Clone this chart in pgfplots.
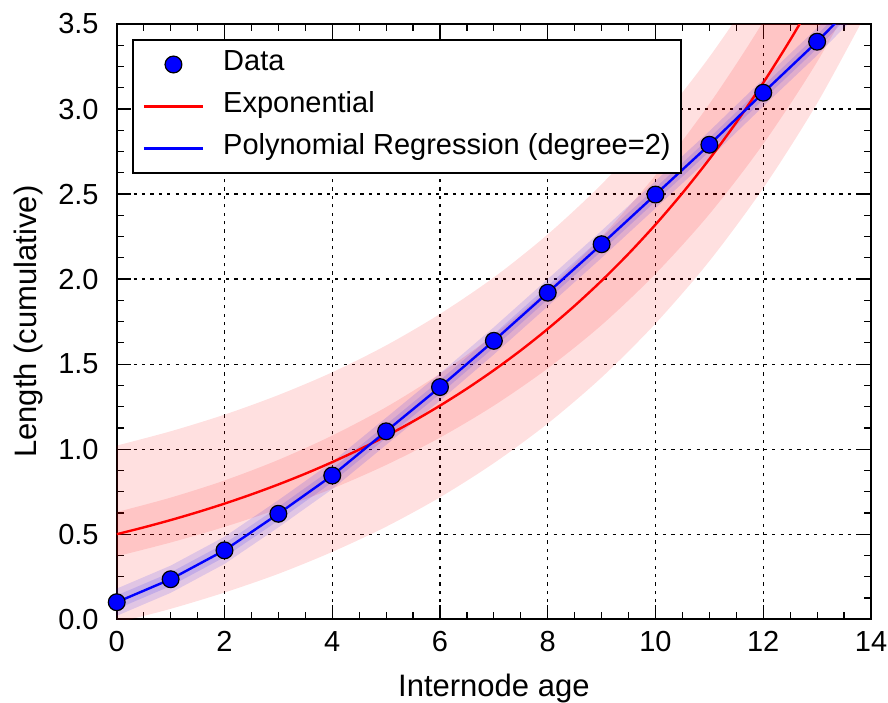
\documentclass[border=0pt]{standalone}
\usepackage{fontspec}
\setmainfont{Liberation Sans}
\usepackage{pgfplots}
\pgfplotsset{compat=1.18}
\usepgfplotslibrary{fillbetween}
\begin{document}
\begin{tikzpicture}
\begin{axis}[
  scale only axis, width=377pt, height=297.5pt,
  xmin=0, xmax=14, ymin=0, ymax=3.5,
  xtick={0,2,4,6,8,10,12,14}, ytick={0,0.5,1,1.5,2,2.5,3,3.5},
  minor x tick num=3, minor y tick num=3,
  tick align=inside, tick pos=both,
  major tick length=7pt, minor tick length=3.5pt,
  tick style={black, line width=0.6pt},
  axis line style={black, line width=1.2pt},
  grid=major,
  major grid style={black, line width=0.6pt, dash pattern=on 1.6pt off 2.6pt},
  /pgf/number format/assume math mode=true,
  ticklabel style={font=\fontsize{14.5}{17}\selectfont, inner sep=0pt},
  xticklabel style={anchor=north, yshift=-6pt},
  yticklabel style={anchor=east, xshift=-8.85pt, /pgf/number format/.cd, fixed, fixed zerofill, precision=1},
  xlabel={Internode age},
  ylabel={Length (cumulative)},
  label style={font=\fontsize{15.5}{18}\selectfont, inner sep=0pt},
  xlabel style={at={(axis description cs:0.5,-0.1294)}, anchor=base},
  ylabel style={at={(axis description cs:-0.107,0.5)}, anchor=base},
  legend cell align=left,
  legend style={
    at={(axis description cs:0.0199,0.974)}, anchor=north west,
    draw=black, line width=1pt, fill=white,
    inner xsep=5pt, inner ysep=6pt,
    font=\fontsize{14.5}{17}\selectfont,
    row sep=9pt,
    nodes={inner sep=0pt, text height=9pt, text depth=3pt},
    /tikz/every odd column/.style={column sep=9.5pt},
    cells={anchor=west},
  },
]
\addlegendimage{legend image code/.code={\draw[fill=blue, draw=black, line width=0.6pt] (14.75pt,0pt) circle (4.2pt);}}
\addlegendentry{Data}
\addlegendimage{legend image code/.code={\draw[red, line width=1.2pt] (0pt,0pt) -- (29.5pt,0pt);}}
\addlegendentry{Exponential}
\addlegendimage{legend image code/.code={\draw[blue, line width=1.2pt] (0pt,0pt) -- (29.5pt,0pt);}}
\addlegendentry{Polynomial Regression (degree=2)}

% red outer band
\addplot[name path=roup, draw=none, smooth, forget plot] coordinates {(0,1.021)(1,1.105)(2,1.203)(3,1.318)(4,1.452)(5,1.610)(6,1.795)(7,2.010)(8,2.263)(9,2.558)(10,2.903)(11,3.306)(12,3.775)(13,4.322)(14,4.960)};
\addplot[name path=rolo, draw=none, smooth, forget plot] coordinates {(0,-0.021)(1,0.061)(2,0.157)(3,0.267)(4,0.396)(5,0.544)(6,0.717)(7,0.918)(8,1.151)(9,1.422)(10,1.739)(11,2.106)(12,2.535)(13,3.034)(14,3.616)};
\addplot[fill=red, fill opacity=0.12, draw=none, forget plot] fill between[of=roup and rolo];
% red inner band
\addplot[name path=riup, draw=none, smooth, forget plot] coordinates {(0,0.630)(1,0.715)(2,0.816)(3,0.937)(4,1.080)(5,1.247)(6,1.444)(7,1.672)(8,1.939)(9,2.250)(10,2.611)(11,3.030)(12,3.515)(13,4.078)(14,4.732)};
\addplot[name path=rilo, draw=none, smooth, forget plot] coordinates {(0,0.370)(1,0.451)(2,0.543)(3,0.648)(4,0.768)(5,0.907)(6,1.068)(7,1.256)(8,1.475)(9,1.730)(10,2.031)(11,2.382)(12,2.795)(13,3.278)(14,3.844)};
\addplot[fill=red, fill opacity=0.12, draw=none, forget plot] fill between[of=riup and rilo];
% blue outer band
\addplot[name path=boup, draw=none, forget plot] coordinates {(0,0.18)(1,0.315)(2,0.485)(3,0.70)(4,0.925)(5,1.185)(6,1.445)(7,1.717)(8,2.0)(9,2.285)(10,2.577)(11,2.87)(12,3.176)(13,3.476)(14,3.80)};
\addplot[name path=bolo, draw=none, forget plot] coordinates {(0,0.02)(1,0.155)(2,0.325)(3,0.54)(4,0.765)(5,1.025)(6,1.285)(7,1.557)(8,1.84)(9,2.125)(10,2.417)(11,2.71)(12,3.016)(13,3.316)(14,3.64)};
\addplot[fill=blue, fill opacity=0.12, draw=none, forget plot] fill between[of=boup and bolo];
% blue inner band
\addplot[name path=biup, draw=none, forget plot] coordinates {(0,0.14)(1,0.275)(2,0.445)(3,0.66)(4,0.885)(5,1.145)(6,1.405)(7,1.677)(8,1.96)(9,2.245)(10,2.537)(11,2.83)(12,3.136)(13,3.436)(14,3.76)};
\addplot[name path=bilo, draw=none, forget plot] coordinates {(0,0.06)(1,0.195)(2,0.365)(3,0.58)(4,0.805)(5,1.065)(6,1.325)(7,1.597)(8,1.88)(9,2.165)(10,2.457)(11,2.75)(12,3.056)(13,3.356)(14,3.68)};
\addplot[fill=blue, fill opacity=0.12, draw=none, forget plot] fill between[of=biup and bilo];
% exponential curve
\addplot[red, line width=1.2pt, smooth, forget plot] coordinates {(0,0.5)(0.5,0.53988)(1,0.58296)(1.5,0.62945)(2,0.67968)(2.5,0.73390)(3,0.79245)(3.5,0.85567)(4,0.92393)(4.5,0.99763)(5,1.07722)(5.5,1.16311)(6,1.25589)(6.5,1.35608)(7,1.46427)(7.5,1.58109)(8,1.70724)(8.5,1.84342)(9,1.99046)(9.5,2.14925)(10,2.32071)(10.5,2.50585)(11,2.70574)(11.5,2.92160)(12,3.15469)(12.5,3.40632)(13,3.67805)(13.5,3.97146)(14,4.28830)};
% polynomial regression line
\addplot[blue, line width=1.2pt, forget plot] coordinates {(0,0.10)(1,0.235)(2,0.405)(3,0.62)(4,0.845)(5,1.105)(6,1.365)(7,1.637)(8,1.92)(9,2.205)(10,2.497)(11,2.79)(12,3.096)(13,3.396)(14,3.72)};
% data
\addplot[only marks, mark=*, mark size=4.2pt, mark options={fill=blue, draw=black, line width=0.6pt}, forget plot] coordinates {(0,0.10)(1,0.235)(2,0.405)(3,0.62)(4,0.845)(5,1.105)(6,1.365)(7,1.637)(8,1.92)(9,2.205)(10,2.497)(11,2.79)(12,3.096)(13,3.396)};
\end{axis}
\pgfresetboundingbox
\path[use as bounding box] ([xshift=-58.35pt,yshift=-41.5pt]current axis.south west) rectangle ([xshift=8.5pt,yshift=12pt]current axis.north east);
\end{tikzpicture}
\end{document}
